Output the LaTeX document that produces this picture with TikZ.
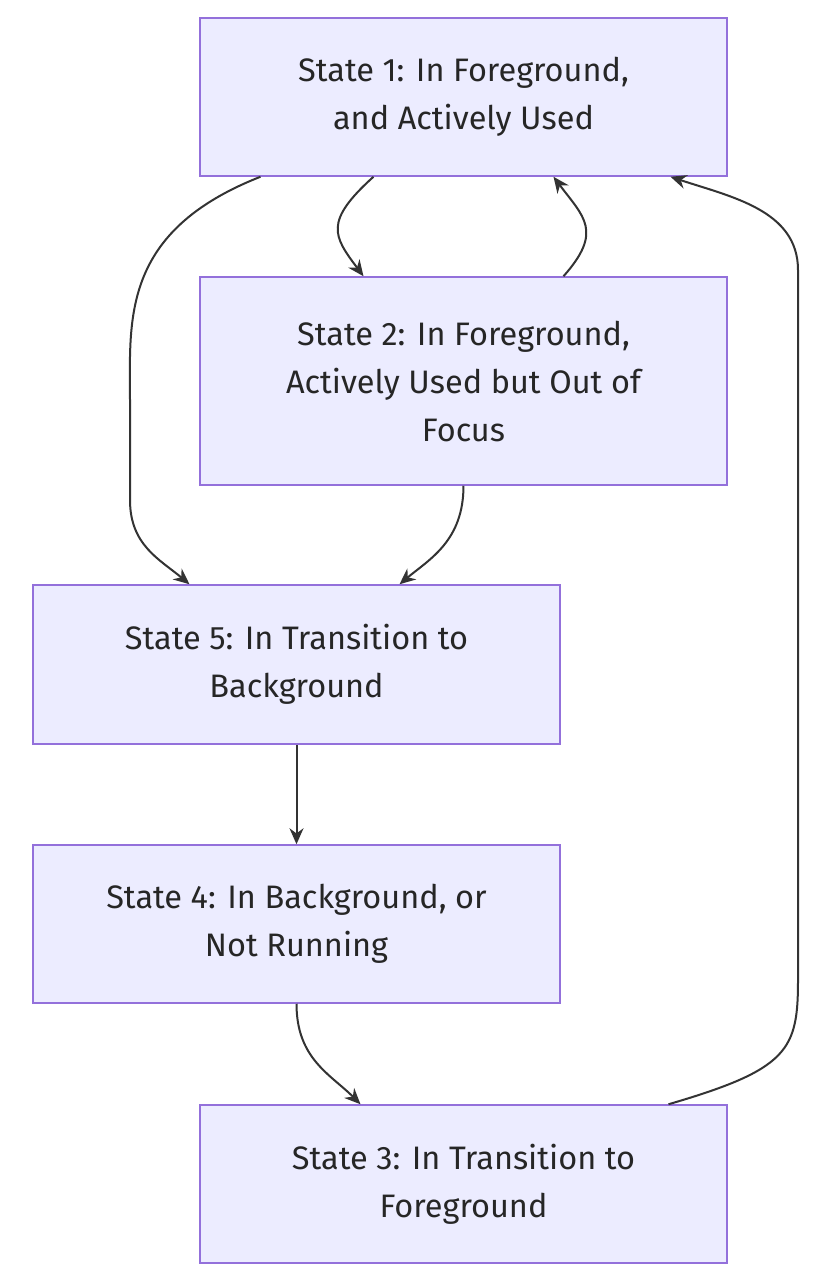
\documentclass[tikz,border=0pt]{standalone}
\usepackage{fontspec}
\setmainfont{Fira Sans}
\usetikzlibrary{arrows.meta}
\definecolor{bfill}{HTML}{ECECFF}
\definecolor{bline}{HTML}{9370DB}
\definecolor{edge}{HTML}{333333}
\begin{document}
\begin{tikzpicture}[x=1pt,y=-1pt,
  st/.style={draw=bline,fill=bfill,line width=1.5pt,minimum width=527pt,align=center,font=\fontsize{32.5}{48}\selectfont,text=black!85,inner sep=0pt},
  e/.style={draw=edge,line width=2pt,-{Stealth[length=16pt,width=14pt]}}]
\useasboundingbox (0,0) rectangle (824,1278);
\node[st,minimum height=158pt] (s1) at (463.5,97) {State 1: In Foreground,\\ and Actively Used};
\node[st,minimum height=208pt] (s2) at (463.5,381) {State 2: In Foreground,\\ Actively Used but Out of\\ Focus};
\node[st,minimum height=159pt] (s5) at (296.5,664.5) {State 5: In Transition to\\ Background};
\node[st,minimum height=158pt] (s4) at (296.5,924) {State 4: In Background, or\\ Not Running};
\node[st,minimum height=158pt] (s3) at (463.5,1184) {State 3: In Transition to\\ Foreground};
\draw[e] ([xshift=-90pt]s1.south) .. controls +(-50,45) and +(-30,-40) .. ([xshift=-100pt]s2.north);
\draw[e] ([xshift=100pt]s2.north) .. controls +(40,-45) and +(30,40) .. ([xshift=90pt]s1.south);
\draw[e] ([xshift=-203pt]s1.south) .. controls +(-140,55) and +(0,-80) .. (130,400) -- (130,500) .. controls +(0,45) and +(-30,-25) .. ([xshift=-107pt]s5.north);
\draw[e] (s2.south) .. controls +(0,55) and +(30,-25) .. ([xshift=103pt]s5.north);
\draw[e] (s5.south) -- (s4.north);
\draw[e] (s4.south) .. controls +(0,55) and +(-30,-30) .. ([xshift=-103pt]s3.north);
\draw[e] ([xshift=205pt]s3.north) .. controls +(120,-35) and +(0,70) .. (798,980) -- (798,270) .. controls +(0,-60) and +(60,20) .. ([xshift=207pt]s1.south);
\end{tikzpicture}
\end{document}
